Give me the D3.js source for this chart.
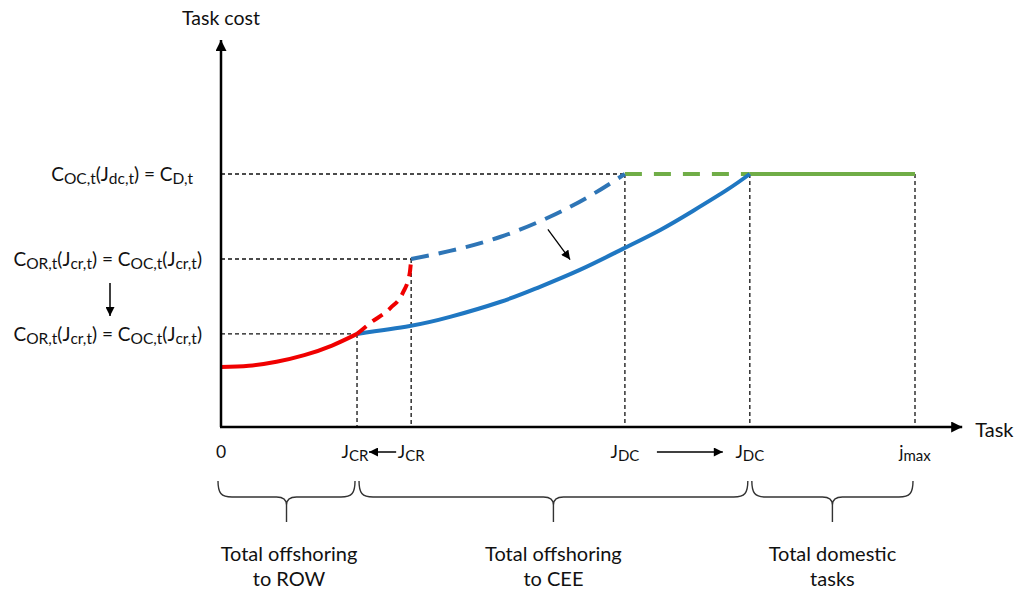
<!DOCTYPE html>
<html>
<head>
<meta charset="utf-8">
<script src="https://cdn.jsdelivr.net/npm/d3@7"></script>
<style>
  html, body { margin: 0; padding: 0; background: #fff; }
  svg { display: block; font-family: Lato, "Noto Sans", sans-serif; }
</style>
</head>
<body>
<script>
// ---------- data (task index 0..100 = j_max, cost 0..100 = C_D,t) ----------
const taskMarks = ["0", "J_CR_new", "J_CR_old", "J_DC_old", "J_DC_new", "j_max"];
const taskValues = [0, 19.6, 27.4, 58.2, 76.2, 100];
const costLevels = { cD: 100, crOld: 66.4, crNew: 36.8 };

const redSolid   = [[0,23.7],[4,24.2],[8,25.8],[12,28.4],[16,32.2],[19.6,36.8]];
const redDashed  = [[19.6,36.8],[21.5,41.1],[24.4,47.0],[26.2,53.0],[27.2,60.9],[27.4,66.4]];
const blueDashed = [[27.4,66.4],[33.0,69.6],[40.2,75.1],[47.4,83.1],[53.2,91.4],[58.2,100]];
const blueSolid  = [[19.6,36.8],[27.2,39.9],[33.0,43.5],[40.2,49.4],[45.5,54.9],[51.7,62.1],[57.9,70.4],[63.3,77.9],[68.0,85.4],[72.9,93.7],[76.2,100]];
const greenDashed = [[58.2,100],[76.2,100]];
const greenSolid  = [[76.2,100],[100,100]];

const shiftArrow = [[47.1,78.1],[50.3,66.2]];
const braceLabels = [["Total offshoring","to ROW"],["Total offshoring","to CEE"],["Total domestic","tasks"]];
const braceSpans = [[0,19.6],[19.6,76.2],[76.2,100]];

// ---------- scales ----------
const x = d3.scaleLinear().domain([0,100]).range([221,915]);
const y = d3.scaleLinear().domain([0,100]).range([427,174]);
const xAxisEnd = 106.8, yAxisEnd = 153;

const svg = d3.select("body").append("svg").attr("width",1020).attr("height",595);
const defs = svg.append("defs");
function marker(id, w, h) {
  defs.append("marker").attr("id", id).attr("viewBox","0 0 10 10")
    .attr("refX",10).attr("refY",5).attr("markerUnits","userSpaceOnUse")
    .attr("markerWidth", w).attr("markerHeight", h).attr("orient","auto")
    .append("path").attr("d","M0,0 L10,5 L0,10 z").attr("fill","#000");
}
marker("bigArrow", 13, 11);
marker("smallArrow", 10, 9);

const smooth = d3.line().x(d => x(d[0])).y(d => y(d[1])).curve(d3.curveNatural);
const mono = d3.line().x(d => x(d[0])).y(d => y(d[1])).curve(d3.curveMonotoneX);

// ---------- guide dashed lines ----------
const guide = svg.append("g").attr("stroke","#111").attr("stroke-width",1.3).attr("stroke-dasharray","4,3").attr("fill","none");
[[costLevels.cD, taskValues[3]],[costLevels.crOld, taskValues[2]],[costLevels.crNew, taskValues[1]]].forEach(([c,t]) => {
  guide.append("line").attr("x1",x(0)).attr("x2",x(t)).attr("y1",y(c)).attr("y2",y(c));
});
[[taskValues[1],costLevels.crNew],[taskValues[2],costLevels.crOld],[taskValues[3],costLevels.cD],[taskValues[4],costLevels.cD],[taskValues[5],costLevels.cD]].forEach(([t,c]) => {
  guide.append("line").attr("x1",x(t)).attr("x2",x(t)).attr("y1",y(c)).attr("y2",y(0));
});

// ---------- curves ----------
const curves = [
  {d: greenDashed, color:"#70ad47", dash:"17,12", gen: mono},
  {d: greenSolid,  color:"#70ad47", dash:null, gen: mono},
  {d: blueDashed,  color:"#2e75b6", dash:"18,10", gen: smooth},
  {d: blueSolid,   color:"#1f77c2", dash:null, gen: smooth},
  {d: redSolid,    color:"#f00000", dash:null, gen: mono},
  {d: redDashed,   color:"#f00000", dash:"12,8", gen: mono}
];
svg.append("g").selectAll("path").data(curves).join("path")
  .attr("d", c => c.gen(c.d)).attr("fill","none")
  .attr("stroke", c => c.color).attr("stroke-width",4)
  .attr("stroke-dasharray", c => c.dash);

// ---------- axes ----------
svg.append("line").attr("x1",x(0)).attr("y1",y(0)).attr("x2",x(0)).attr("y2",y(yAxisEnd))
  .attr("stroke","#000").attr("stroke-width",2.5).attr("marker-end","url(#bigArrow)");
svg.append("line").attr("x1",x(0)-1).attr("y1",y(0)).attr("x2",x(xAxisEnd)).attr("y2",y(0))
  .attr("stroke","#000").attr("stroke-width",2.5).attr("marker-end","url(#bigArrow)");
svg.append("text").attr("x",x(0)).attr("y",25).attr("text-anchor","middle").attr("font-size",19.5).attr("fill","#111").text("Task cost");
svg.append("text").attr("x",x(xAxisEnd)+13).attr("y",y(0)+10).attr("font-size",20).attr("fill","#111").text("Task");

// shift arrow
svg.append("line").attr("x1",x(shiftArrow[0][0])).attr("y1",y(shiftArrow[0][1]))
  .attr("x2",x(shiftArrow[1][0])).attr("y2",y(shiftArrow[1][1]))
  .attr("stroke","#000").attr("stroke-width",1.3).attr("marker-end","url(#smallArrow)");

// ---------- subscript text helper ----------
function subText(t, parts, size, subSize, shift) {
  let wasSub = false;
  parts.forEach(([s, sub]) => {
    const ts = t.append("tspan").text(s).attr("font-size", sub ? subSize : size);
    if (sub && !wasSub) ts.attr("dy", shift);
    if (!sub && wasSub) ts.attr("dy", -shift);
    wasSub = sub;
  });
  return t;
}

// left labels
const lab1 = svg.append("text").attr("x",193).attr("y",y(costLevels.cD)+7).attr("text-anchor","end").attr("fill","#111");
subText(lab1, [["C",0],["OC,t",1],["(J",0],["dc,t",1],[") = C",0],["D,t",1]], 19, 15.5, 3);
const crParts = [["C",0],["OR,t",1],["(J",0],["cr,t",1],[") = C",0],["OC,t",1],["(J",0],["cr,t",1],[")",0]];
const lab2 = svg.append("text").attr("x",202).attr("y",y(costLevels.crOld)+7).attr("text-anchor","end").attr("fill","#111");
subText(lab2, crParts, 19, 15.5, 3);
const lab3 = svg.append("text").attr("x",202).attr("y",y(costLevels.crNew)+7).attr("text-anchor","end").attr("fill","#111");
subText(lab3, crParts, 19, 15.5, 3);
svg.append("line").attr("x1",110).attr("x2",110).attr("y1",y(costLevels.crOld)+24).attr("y2",y(costLevels.crNew)-18)
  .attr("stroke","#000").attr("stroke-width",1.5).attr("marker-end","url(#smallArrow)");

// ---------- tick labels ----------
const tickY = y(0) + 31;
const tickParts = [
  [["0",0]],
  [["J",0],["CR",1]],
  [["J",0],["CR",1]],
  [["J",0],["DC",1]],
  [["J",0],["DC",1]],
  [["j",0],["max",1]]
];
const tickOffsets = [0, -2, 0, 0, 0, 0];
const tickG = svg.append("g");
taskValues.forEach((v, i) => {
  const t = tickG.append("text").attr("x", x(v) + tickOffsets[i]).attr("y", tickY).attr("text-anchor","middle").attr("fill","#111");
  subText(t, tickParts[i], 17.5, 15, 3);
});
// arrows between tick labels
svg.append("line").attr("x1",x(taskValues[2])-15).attr("x2",x(taskValues[1])+12).attr("y1",tickY-6).attr("y2",tickY-6)
  .attr("stroke","#000").attr("stroke-width",1.5).attr("marker-end","url(#smallArrow)");
svg.append("line").attr("x1",x(taskValues[3])+32).attr("x2",x(taskValues[4])-27).attr("y1",tickY-6).attr("y2",tickY-6)
  .attr("stroke","#000").attr("stroke-width",1.5).attr("marker-end","url(#smallArrow)");

// ---------- braces ----------
function bracePath(x0, x1, yTop, yMid, yTip) {
  const xm = (x0 + x1) / 2, r = 10, k = 8;
  return `M${x0},${yTop} C${x0},${yMid-4} ${x0+3},${yMid} ${x0+r+4},${yMid} L${xm-r},${yMid} Q${xm},${yMid} ${xm},${yMid+k} L${xm},${yTip}` +
         ` M${xm},${yMid+k} Q${xm},${yMid} ${xm+r},${yMid} L${x1-r-4},${yMid} C${x1-3},${yMid} ${x1},${yMid-4} ${x1},${yTop}`;
}
const braceG = svg.append("g");
braceSpans.forEach((s, i) => {
  const x0 = x(s[0]) + (i === 0 ? -3 : 2), x1 = x(s[1]) - 2;
  braceG.append("path").attr("d", bracePath(x0, x1, 481, 497, 522))
    .attr("fill","none").attr("stroke","#333").attr("stroke-width",1.4);
  const cx = (x(s[0]) + x(s[1])) / 2;
  braceG.append("text").attr("x",cx).attr("y",561).attr("text-anchor","middle").attr("font-size",20).attr("fill","#111").text(braceLabels[i][0]);
  braceG.append("text").attr("x",cx).attr("y",586).attr("text-anchor","middle").attr("font-size",20).attr("fill","#111").text(braceLabels[i][1]);
});
</script>
</body>
</html>
